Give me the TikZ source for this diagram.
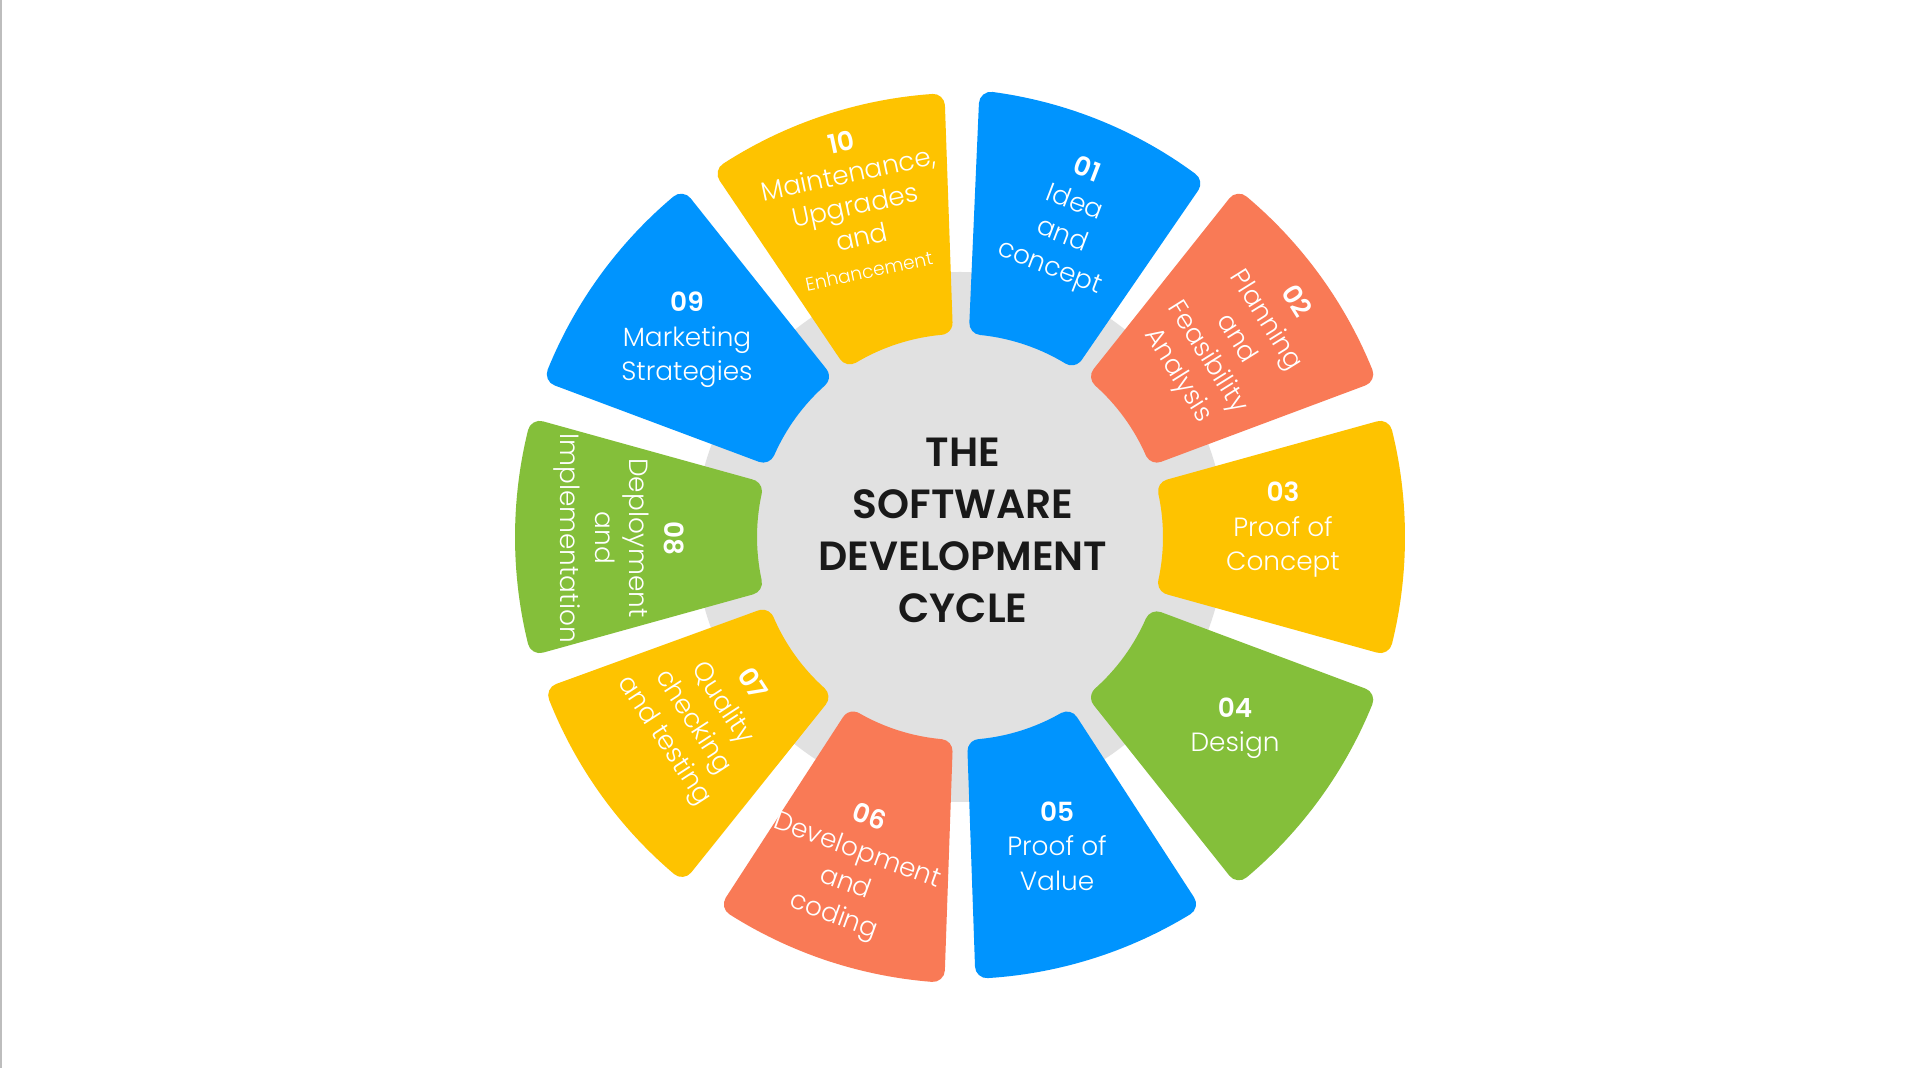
\documentclass[tikz,border=0pt]{standalone}
\usepackage{fontspec}
\setmainfont{Poppins Light}[BoldFont={Poppins SemiBold}]
\usetikzlibrary{positioning}

\definecolor{petalblue}{HTML}{0094FE}
\definecolor{petalyellow}{HTML}{FEC300}
\definecolor{petalcoral}{HTML}{F97A56}
\definecolor{petalgreen}{HTML}{84BF3A}
\definecolor{hubgray}{HTML}{E1E1E1}
\definecolor{framegray}{HTML}{BDBDBD}

\tikzset{
  petaltext/.style={text=white, align=center, font=\fontsize{7.5}{9.8}\selectfont},
  titletext/.style={text=black!90, align=center, font=\bfseries\fontsize{11.6}{14.8}\selectfont}
}

% corner radius and inset inner radius of the petals
\def\cornerr{0.12}
\def\innerr{2.15}

% #1 start angle, #2 end angle, #3 outer radius at start, #4 outer radius at end, #5 colour
\newcommand{\petal}[5]{%
  \pgfmathsetmacro{\pa}{#1+asin(\cornerr/\innerr)}
  \pgfmathsetmacro{\pb}{#2-asin(\cornerr/\innerr)}
  \pgfmathsetmacro{\qa}{#1+asin(\cornerr/(#3-\cornerr))}
  \pgfmathsetmacro{\qb}{#2-asin(\cornerr/(#4-\cornerr))}
  \filldraw[fill=#5, draw=#5, line width=0.24cm, line join=round]
    (\pa:\innerr) -- (\qa:{#3-\cornerr})
    -- plot[domain=\qa:\qb, samples=30] (\x:{#3-\cornerr+(#4-#3)*(\x-#1)/(#2-#1)})
    -- (\pb:\innerr) arc[start angle=\pb, end angle=\pa, radius=\innerr] -- cycle;
}

\begin{document}
\begin{tikzpicture}
\useasboundingbox (0,0) rectangle (19.2,10.68);
\fill[white] (0,0) rectangle (19.2,10.68);
\fill[framegray] (0,0) rectangle (0.025,10.68);

\begin{scope}[shift={(9.6,5.31)}]
% hub
\fill[hubgray] (0,0) circle[radius=2.65];

% petals
\petal{55.5}{87.5}{4.32}{4.47}{petalblue}
\petal{20.5}{51.5}{4.45}{4.45}{petalcoral}
\petal{-15.5}{15.5}{4.45}{4.45}{petalyellow}
\petal{-51.5}{-20.5}{4.45}{4.45}{petalgreen}
\petal{-88}{-57}{4.42}{4.42}{petalblue}
\petal{-123}{-92}{4.42}{4.46}{petalcoral}
\petal{-160}{-128.7}{4.42}{4.42}{petalyellow}
\petal{164.5}{195.5}{4.45}{4.45}{petalgreen}
\petal{128.5}{159.5}{4.45}{4.45}{petalblue}
\petal{92}{124}{4.44}{4.42}{petalyellow}

% texts
\node[titletext] (title) at (0.03,0.07) {THE\\SOFTWARE\\DEVELOPMENT\\CYCLE};
\node[petaltext, rotate=-21] (idea) at (1.08,3.17) {\textbf{01}\\Idea\\and\\concept};
\node[petaltext, rotate=-58] (planning) at (2.76,1.98) {\textbf{02}\\Planning\\and\\Feasibility\\Analysis};
\node[petaltext] (poc) at (3.23,0.07) {\textbf{03}\\Proof of\\Concept};
\node[petaltext] (design) at (2.75,-1.91) {\textbf{04}\\Design};
\node[petaltext] (pov) at (0.97,-3.09) {\textbf{05}\\Proof of\\Value};
\node[petaltext, rotate=-20] (coding) at (-1.09,-3.31) {\textbf{06}\\Development\\and\\coding};
\node[petaltext, rotate=-57] (testing) at (-2.53,-1.76) {\textbf{07}\\Quality\\checking\\and testing};
\node[petaltext, rotate=-90] (deploy) at (-3.41,-0.01) {\textbf{08}\\Deployment\\and\\Implementation};
\node[petaltext] (marketing) at (-2.73,1.97) {\textbf{09}\\Marketing\\Strategies};
\node[petaltext, rotate=12, font=\fontsize{7.5}{9.2}\selectfont] (maintenance) at (-1.05,3.32) {\textbf{10}\\Maintenance,\\Upgrades\\and\\{\fontsize{5.3}{7}\selectfont Enhancement}};
\end{scope}
\end{tikzpicture}
\end{document}
